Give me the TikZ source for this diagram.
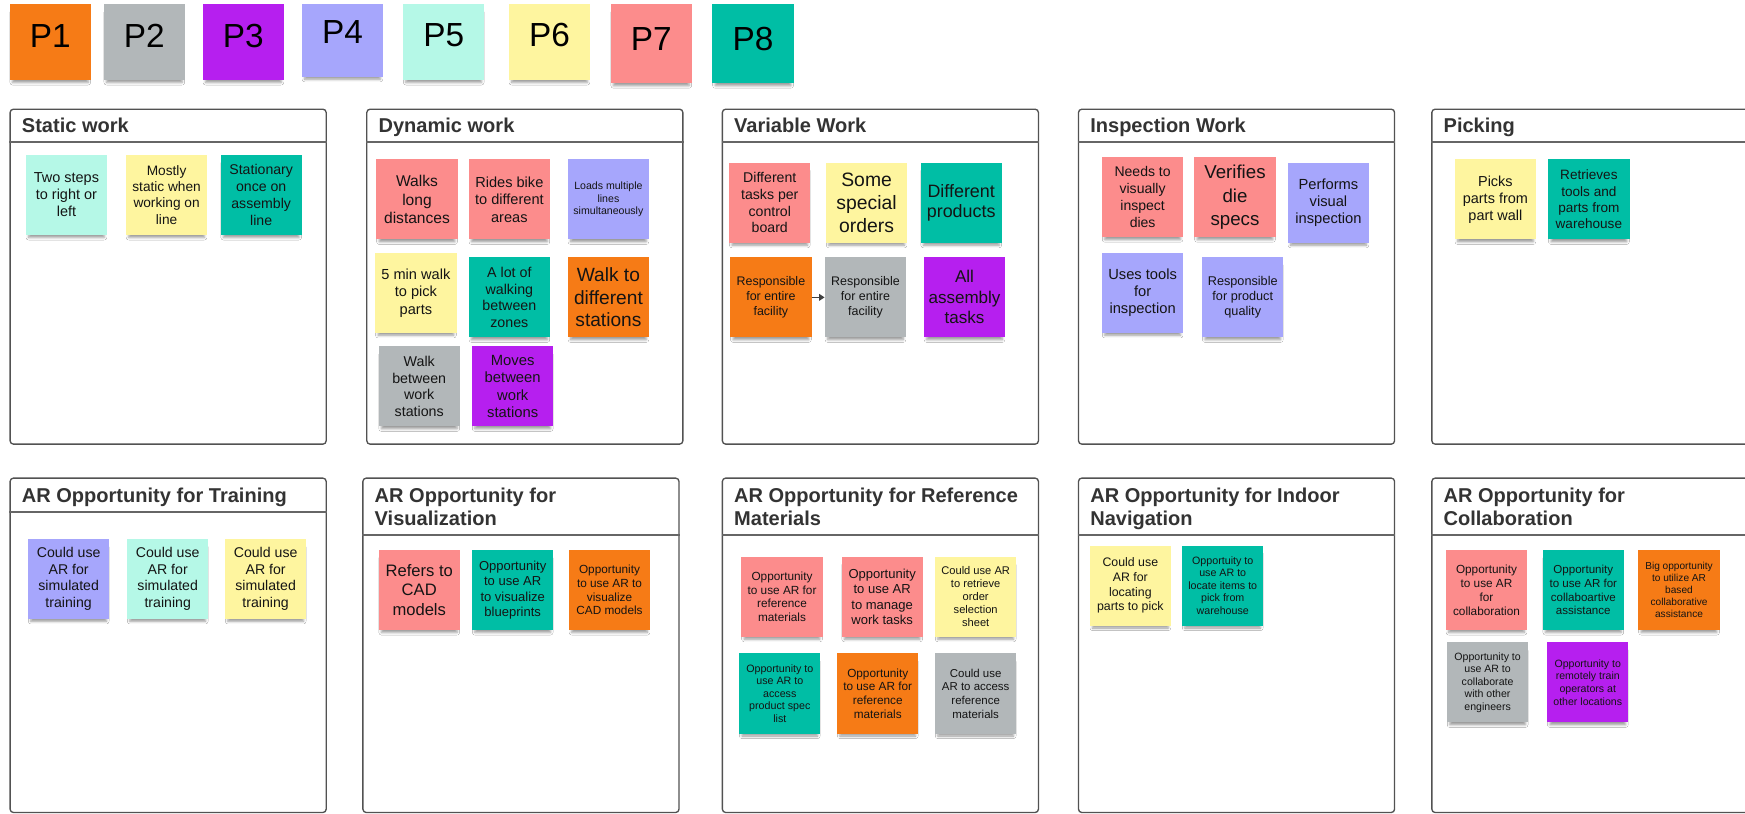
\documentclass[tikz,border=0pt]{standalone}
\usepackage{fontspec}
\setmainfont{Liberation Sans}
\usetikzlibrary{shadows.blur,arrows.meta}

% sticky-note palette
\definecolor{cOr}{HTML}{F67B16}
\definecolor{cGr}{HTML}{B2B7B9}
\definecolor{cPu}{HTML}{B61FEF}
\definecolor{cLa}{HTML}{A6A6FC}
\definecolor{cMi}{HTML}{B5F8E7}
\definecolor{cYe}{HTML}{FEF59F}
\definecolor{cPi}{HTML}{FC8C8C}
\definecolor{cTe}{HTML}{00BEA5}

\newcommand\fs[2]{\fontsize{#1pt}{#2pt}\selectfont}

\tikzset{
  softshadow/.style={blur shadow={shadow xshift=0pt, shadow yshift=-5pt,
      shadow scale=0.93, shadow blur radius=2.5pt, shadow opacity=40}},
  sticky/.style={rectangle, anchor=north west, minimum width=73pt,
      minimum height=72pt, inner sep=0pt, align=center, text=black!92, softshadow},
  swatch/.style={rectangle, anchor=north west, minimum width=73pt,
      inner sep=0pt, softshadow},
  swlabel/.style={font=\fs{30}{36}, inner sep=0pt, text=black},
  frame/.style={draw=black!68, line width=1.2pt, rounded corners=3pt,
      anchor=north west, inner sep=0pt, minimum width=284pt},
  headline/.style={draw=black!60, line width=2pt},
  ptitle/.style={font=\bfseries\fs{18}{21}, text=black!80, align=left,
      inner sep=0pt, anchor=base west},
  link/.style={draw=black!75, line width=1.3pt, -{Triangle[length=5pt,width=6pt]}}
}

% panel: name, left, top, width, height, header height, title baseline (last line), title
\newcommand\boardpanel[8]{%
  \node[frame, minimum width=#4pt, minimum height=#5pt] (#1) at (#2,#3) {};
  \draw[headline] ([yshift=-#6pt]#1.north west) -- ([yshift=-#6pt]#1.north east);
  \node[ptitle] (#1t) at ([xshift=11pt,yshift=-#7pt]#1.north west) {#8};
}

\begin{document}
\begin{tikzpicture}[x=1pt,y=-1pt]
\useasboundingbox (0,0) rectangle (1568,731);
\clip (0,0) rectangle (1568,731);
\fill[white] (0,0) rectangle (1568,731);

% participant swatches
\node[swatch, fill=cOr, minimum height=68pt] (p1) at (8.5,3.6) {};
\node[swatch, fill=cGr, minimum height=68pt] (p2) at (93,3.6) {};
\node[swatch, fill=cPu, minimum height=68pt] (p3) at (182,3.6) {};
\node[swatch, fill=cLa, minimum height=65pt] (p4) at (271,3.6) {};
\node[swatch, fill=cMi, minimum height=68pt] (p5) at (362,3.6) {};
\node[swatch, fill=cYe, minimum height=68pt] (p6) at (457,3.6) {};
\node[swatch, fill=cPi, minimum height=71pt] (p7) at (548.5,3.6) {};
\node[swatch, fill=cTe, minimum height=71pt] (p8) at (640,3.6) {};
\node[swlabel] (p1t) at (p1.north |- 0,32) {P1};
\node[swlabel] (p2t) at (p2.north |- 0,32) {P2};
\node[swlabel] (p3t) at (p3.north |- 0,32) {P3};
\node[swlabel] (p4t) at (p4.north |- 0,28.5) {P4};
\node[swlabel] (p5t) at (p5.north |- 0,31.5) {P5};
\node[swlabel] (p6t) at (p6.north |- 0,31.5) {P6};
\node[swlabel] (p7t) at (p7.north |- 0,35) {P7};
\node[swlabel] (p8t) at (p8.north |- 0,35) {P8};

% work-type panels
\boardpanel{static}{8.5}{97.5}{284}{301}{30}{22}{Static work}
\boardpanel{dynamic}{329}{97.5}{284}{301}{30}{22}{Dynamic work}
\boardpanel{variable}{648.5}{97.5}{284}{301}{30}{22}{Variable Work}
\boardpanel{inspect}{968.5}{97.5}{284}{301}{30}{22}{Inspection Work}
\boardpanel{picking}{1286}{97.5}{300}{301}{30}{22}{Picking}

% AR opportunity panels
\boardpanel{training}{8.5}{429}{284}{300.5}{31}{22.5}{AR Opportunity for Training}
\boardpanel{visual}{325.5}{429}{284}{300.5}{52}{43.5}{AR Opportunity for\\Visualization}
\boardpanel{refmat}{648.5}{429}{284}{300.5}{52}{43.5}{AR Opportunity for Reference\\Materials}
\boardpanel{indoor}{968.5}{429}{284}{300.5}{52}{43.5}{AR Opportunity for Indoor\\Navigation}
\boardpanel{collab}{1286}{429}{300}{300.5}{52}{43.5}{AR Opportunity for\\Collaboration}

% Static work
\node[sticky, fill=cMi, font=\fs{13}{15.3}] (s1) at (23,139) {Two steps\\to right or\\left};
\node[sticky, fill=cYe, font=\fs{12.3}{14.5}] (s2) at (113,139) {Mostly\\static when\\working on\\line};
\node[sticky, fill=cTe, font=\fs{12.7}{15}] (s3) at (198,139) {Stationary\\once on\\assembly\\line};

% Dynamic work
\node[sticky, fill=cPi, font=\fs{14}{16.5}] (d1) at (338,143) {Walks\\long\\distances};
\node[sticky, fill=cPi, font=\fs{13.1}{15.6}] (d2) at (421,143) {Rides bike\\to different\\areas};
\node[sticky, fill=cLa, font=\fs{9.5}{11}] (d3) at (510,143) {Loads multiple\\lines\\simultaneously};
\node[sticky, fill=cYe, font=\fs{13.1}{15.7}] (d4) at (337,227) {5 min walk\\to pick\\parts};
\node[sticky, fill=cTe, font=\fs{12.8}{15}] (d5) at (421,231) {A lot of\\walking\\between\\zones};
\node[sticky, fill=cOr, font=\fs{17.2}{20.4}] (d6) at (510,231) {Walk to\\different\\stations};
\node[sticky, fill=cGr, font=\fs{12.8}{15}] (d7) at (340,311) {Walk\\between\\work\\stations};
\node[sticky, fill=cPu, font=\fs{13.3}{15.6}] (d8) at (424,311) {Moves\\between\\work\\stations};

% Variable Work
\node[sticky, fill=cPi, font=\fs{12.7}{15}] (v1) at (655,146) {Different\\tasks per\\control\\board};
\node[sticky, fill=cYe, font=\fs{17.4}{20.4}] (v2) at (742,146) {Some\\special\\orders};
\node[sticky, fill=cTe, font=\fs{16.1}{18.6}] (v3) at (827,146) {Different\\products};
\node[sticky, fill=cOr, font=\fs{11.2}{13.2}] (v4) at (656,231) {Responsible\\for entire\\facility};
\node[sticky, fill=cGr, font=\fs{11.2}{13.2}] (v5) at (741,231) {Responsible\\for entire\\facility};
\node[sticky, fill=cPu, font=\fs{15.3}{18.4}] (v6) at (830,231) {All\\assembly\\tasks};
\draw[link] (v4.east) -- (v5.west);

% Inspection Work
\node[sticky, fill=cPi, font=\fs{12.6}{15.2}] (i1) at (990,141) {Needs to\\visually\\inspect\\dies};
\node[sticky, fill=cPi, font=\fs{16.8}{20.8}] (i2) at (1073,141) {Verifies\\die\\specs};
\node[sticky, fill=cLa, font=\fs{13.2}{15.3}] (i3) at (1157,146) {Performs\\visual\\inspection};
\node[sticky, fill=cLa, font=\fs{13.2}{15.4}] (i4) at (990,227) {Uses tools\\for\\inspection};
\node[sticky, fill=cLa, font=\fs{11.4}{13.3}] (i5) at (1080,231) {Responsible\\for product\\quality};

% Picking
\node[sticky, fill=cYe, font=\fs{13}{15.4}] (k1) at (1307,143) {Picks\\parts from\\part wall};
\node[sticky, fill=cTe, font=\fs{12.2}{14.6}] (k2) at (1391,143) {Retrieves\\tools and\\parts from\\warehouse};

% Training
\node[sticky, fill=cLa, font=\fs{12.7}{15}] (t1) at (25,484) {Could use\\AR for\\simulated\\training};
\node[sticky, fill=cMi, font=\fs{12.7}{15}] (t2) at (114,484) {Could use\\AR for\\simulated\\training};
\node[sticky, fill=cYe, font=\fs{12.7}{15}] (t3) at (202,484) {Could use\\AR for\\simulated\\training};

% Visualization
\node[sticky, fill=cPi, font=\fs{14.9}{17.7}] (z1) at (340,494) {Refers to\\CAD\\models};
\node[sticky, fill=cTe, font=\fs{11.7}{13.8}] (z2) at (424,494) {Opportunity\\to use AR\\to visualize\\blueprints};
\node[sticky, fill=cOr, font=\fs{10.6}{12.3}] (z3) at (511,494) {Opportunity\\to use AR to\\visualize\\CAD models};

% Reference Materials
\node[sticky, fill=cPi, font=\fs{10.6}{12.3}] (r1) at (666,500) {Opportunity\\to use AR for\\reference\\materials};
\node[sticky, fill=cPi, font=\fs{11.7}{13.8}] (r2) at (756,500) {Opportunity\\to use AR\\to manage\\work tasks};
\node[sticky, fill=cYe, font=\fs{10}{11.8}] (r3) at (840,500) {Could use AR\\to retrieve\\order\\selection\\sheet};
\node[sticky, fill=cTe, font=\fs{9.6}{11.2}] (r4) at (664,587) {Opportunity to\\use AR to\\access\\product spec\\list};
\node[sticky, fill=cOr, font=\fs{10.6}{12.3}] (r5) at (752,587) {Opportunity\\to use AR for\\reference\\materials};
\node[sticky, fill=cGr, font=\fs{10.3}{12.3}] (r6) at (840,587) {Could use\\AR to access\\reference\\materials};

% Indoor Navigation
\node[sticky, fill=cYe, font=\fs{11.1}{13.2}] (n1) at (979,490) {Could use\\AR for\\locating\\parts to pick};
\node[sticky, fill=cTe, font=\fs{9.6}{11.2}] (n2) at (1062,490) {Opportuity to\\use AR to\\locate items to\\pick from\\warehouse};

% Collaboration
\node[sticky, fill=cPi, font=\fs{10.6}{12.6}] (c1) at (1299,494) {Opportunity\\to use AR\\for\\collaboration};
\node[sticky, fill=cTe, font=\fs{10.4}{12.3}] (c2) at (1386,494) {Opportunity\\to use AR for\\collaboartive\\assistance};
\node[sticky, fill=cOr, font=\fs{9.1}{10.7}] (c3) at (1472,494) {Big opportunity\\to utilize AR\\based\\collaborative\\assistance};
\node[sticky, fill=cGr, font=\fs{9.5}{11.3}] (c4) at (1300,577) {Opportunity to\\use AR to\\collaborate\\with other\\engineers};
\node[sticky, fill=cPu, font=\fs{9.5}{11.3}] (c5) at (1390,577) {Opportunity to\\remotely train\\operators at\\other locations};
\end{tikzpicture}
\end{document}
